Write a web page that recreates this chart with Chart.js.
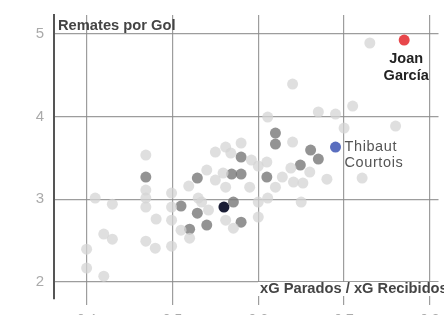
<!DOCTYPE html>
<html>
<head>
<meta charset="utf-8">
<script src="https://cdn.jsdelivr.net/npm/chart.js@4"></script>
<style>
html,body{margin:0;padding:0;background:#fff;overflow:hidden;width:444px;height:315px;}
#wrap{position:absolute;left:0;top:0;width:444px;height:330px;}
</style>
</head>
<body>
<div id="wrap"><canvas id="c" width="444" height="330"></canvas></div>
<script>
// Tick labels
const xTicks = [0.4, 0.5, 0.6, 0.7, 0.8];
const yTicks = [2, 3, 4, 5];

// Other goalkeepers (light)
const otherX = [0.410,0.430,0.420,0.430,0.400,0.400,0.420,0.469,0.469,0.469,0.469,0.469,0.480,0.481,0.499,0.499,0.499,0.499,0.510,0.520,0.519,0.530,0.540,0.550,0.550,0.562,0.568,0.580,0.562,0.592,0.600,0.611,0.542,0.562,0.571,0.590,0.600,0.600,0.610,0.611,0.620,0.628,0.638,0.640,0.640,0.641,0.652,0.650,0.660,0.670,0.690,0.700,0.710,0.730,0.760,0.680,0.721,0.559,0.534];
const otherY = [3.012,2.939,2.576,2.515,2.394,2.164,2.067,3.533,3.109,3.012,2.903,2.491,2.406,2.758,3.073,2.903,2.745,2.430,2.624,2.527,3.158,3.012,3.352,3.230,3.570,3.630,3.558,3.679,3.145,3.473,3.400,3.994,2.867,2.745,2.648,3.145,2.964,2.782,3.448,3.012,3.145,3.267,3.376,3.691,4.394,3.206,3.194,2.964,3.327,4.055,4.030,3.861,4.127,4.891,3.885,3.242,3.255,3.315,2.964];

// Highlighted group (mid grey)
const groupX = [0.469,0.510,0.529,0.529,0.520,0.540,0.571,0.580,0.569,0.580,0.580,0.610,0.620,0.620,0.661,0.670,0.649];
const groupY = [3.267,2.915,3.255,2.830,2.636,2.685,2.964,2.721,3.303,3.303,3.509,3.267,3.800,3.667,3.594,3.485,3.412];

// Single highlighted points
const navyX = [0.560]; const navyY = [2.903];
const joanX = [0.770]; const joanY = [4.927];
const thibautX = [0.690]; const thibautY = [3.630];

const toPts = (xs, ys) => xs.map((x, i) => ({x: x, y: ys[i]}));

const labelsPlugin = {
  id: 'labels',
  afterDatasetsDraw(chart) {
    const ctx = chart.ctx;
    const xs = chart.scales.x, ys = chart.scales.y;
    const ca = chart.chartArea;
    ctx.save();
    // y title
    ctx.font = 'bold 14.7px "Liberation Sans", Arial, sans-serif';
    ctx.fillStyle = '#444';
    ctx.textAlign = 'left';
    ctx.textBaseline = 'alphabetic';
    ctx.fillText('Remates por Gol', ca.left + 4, ca.top + 15);
    // x title with white background
    const t = 'xG Parados / xG Recibidos';
    const w = ctx.measureText(t).width;
    const tx = 260, tb = 293;
    ctx.fillStyle = '#fff';
    ctx.fillRect(tx - 2, tb - 11, w + 4, 14);
    ctx.fillStyle = '#444';
    ctx.fillText(t, tx, tb);
    // Joan García
    const jx = xs.getPixelForValue(joanX[0]), jy = ys.getPixelForValue(joanY[0]);
    ctx.font = 'bold 14.5px "Liberation Sans", Arial, sans-serif';
    ctx.fillStyle = '#222';
    ctx.textAlign = 'center';
    ctx.fillText('Joan', jx + 2, jy + 23);
    ctx.fillText('García', jx + 2, jy + 40);
    // Thibaut Courtois
    const bx = xs.getPixelForValue(thibautX[0]), by = ys.getPixelForValue(thibautY[0]);
    ctx.font = '14.5px "Liberation Sans", Arial, sans-serif';
    ctx.letterSpacing = '0.6px';
    ctx.fillStyle = '#555';
    ctx.textAlign = 'left';
    ctx.textBaseline = 'middle';
    ctx.fillText('Thibaut', bx + 9, by);
    ctx.fillText('Courtois', bx + 9, by + 16);
    ctx.restore();
  }
};

new Chart(document.getElementById('c'), {
  type: 'scatter',
  data: {
    datasets: [
      {data: toPts(otherX, otherY), backgroundColor: 'rgba(212,212,212,0.75)', pointRadius: 5.5, pointHoverRadius: 5.5, borderWidth: 0},
      {data: toPts(groupX, groupY), backgroundColor: 'rgba(120,120,120,0.8)', pointRadius: 5.5, pointHoverRadius: 5.5, borderWidth: 0},
      {data: toPts(navyX, navyY), backgroundColor: '#1b1e36', pointRadius: 5.5, borderWidth: 0},
      {data: toPts(joanX, joanY), backgroundColor: '#e8474b', pointRadius: 5.5, borderWidth: 0},
      {data: toPts(thibautX, thibautY), backgroundColor: '#5a6ebf', pointRadius: 5.5, borderWidth: 0}
    ]
  },
  options: {
    responsive: false,
    animation: false,
    devicePixelRatio: 1,
    layout: {padding: {top: 15, right: 2, left: 0, bottom: 0}},
    plugins: {legend: {display: false}, tooltip: {enabled: false}},
    scales: {
      x: {
        type: 'linear', min: 0.362, max: 0.81,
        afterBuildTicks: s => { s.ticks = xTicks.map(v => ({value: v})); },
        afterFit: s => { s.height = 31; s.paddingLeft = 0; s.paddingRight = 0; },
        grid: {color: 'rgba(140,140,140,0.85)', lineWidth: 1.2, drawTicks: true, tickLength: 6},
        border: {display: false},
        ticks: {color: '#aaa', font: {size: 14, family: '"Liberation Sans", Arial'}, padding: 7, callback: v => v.toFixed(1)}
      },
      y: {
        type: 'linear', min: 1.79, max: 5.23,
        afterBuildTicks: s => { s.ticks = yTicks.map(v => ({value: v})); },
        afterFit: s => { s.width = 54; s.paddingTop = 0; s.paddingBottom = 0; },
        grid: {color: 'rgba(140,140,140,0.85)', lineWidth: 1.2, drawTicks: false},
        border: {display: true, color: '#555', width: 2},
        ticks: {color: '#aaa', font: {size: 15, family: '"Liberation Sans", Arial'}, padding: 10}
      }
    }
  },
  plugins: [labelsPlugin]
});
</script>
</body>
</html>
